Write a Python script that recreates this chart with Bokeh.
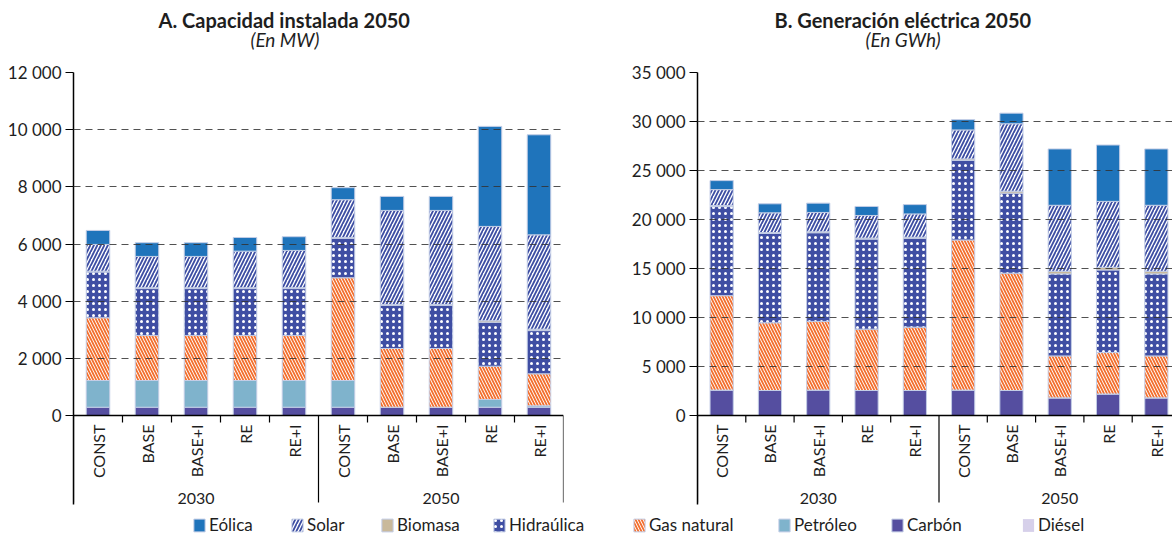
import math
from bokeh.plotting import figure
from bokeh.models import (ColumnDataSource, Range1d, FixedTicker, CustomJSTickFormatter,
                          Title, Legend, LegendItem)
from bokeh.layouts import column, row
from bokeh.transform import stack
from bokeh.core.properties import value
from bokeh.embed import file_html
from bokeh.resources import INLINE

# ---------------- data ----------------
groups = ["2030", "2050"]
scenarios = ["CONST", "BASE", "BASE+I", "RE", "RE+I"]

# stacking order, bottom to top
series = ["Carbón", "Diésel", "Petróleo", "Gas natural", "Hidraúlica", "Biomasa", "Solar", "Eólica"]
legend_order = ["Eólica", "Solar", "Biomasa", "Hidraúlica", "Gas natural", "Petróleo", "Carbón", "Diésel"]

# A. Capacidad instalada (MW): 2030 CONST..RE+I, 2050 CONST..RE+I
cap_carbon = [290, 290, 290, 290, 290, 290, 290, 290, 290, 290]
cap_diesel = [0, 0, 0, 0, 0, 0, 0, 0, 0, 0]
cap_petroleo = [935, 935, 935, 935, 935, 935, 0, 0, 270, 50]
cap_gas = [2195, 1575, 1575, 1575, 1575, 3595, 2055, 2055, 1165, 1120]
cap_hidro = [1600, 1640, 1640, 1640, 1640, 1380, 1510, 1510, 1540, 1510]
cap_biomasa = [30, 30, 30, 30, 30, 30, 30, 30, 50, 50]
cap_solar = [935, 1095, 1095, 1280, 1305, 1320, 3290, 3290, 3300, 3300]
cap_eolica = [490, 480, 480, 478, 480, 420, 490, 490, 3500, 3500]

# B. Generación eléctrica (GWh)
gen_carbon = [2600, 2550, 2600, 2550, 2550, 2600, 2550, 1800, 2200, 1800]
gen_diesel = [0, 0, 0, 0, 0, 0, 0, 0, 0, 0]
gen_petroleo = [0, 0, 0, 0, 0, 0, 0, 0, 0, 0]
gen_gas = [9630, 6910, 7000, 6260, 6460, 15310, 11970, 4280, 4220, 4280]
gen_hidro = [9090, 9110, 9050, 9190, 9080, 8120, 8170, 8370, 8430, 8370]
gen_biomasa = [100, 100, 100, 100, 100, 150, 200, 270, 270, 270]
gen_solar = [1630, 2010, 1970, 2310, 2380, 2960, 6880, 6730, 6730, 6730]
gen_eolica = [920, 920, 950, 920, 950, 1050, 1080, 5750, 5750, 5750]

cap_ticks = [0, 2000, 4000, 6000, 8000, 10000, 12000]
gen_ticks = [0, 5000, 10000, 15000, 20000, 25000, 30000, 35000]

# ---------------- styles / layout ----------------
FONT = "Lato"
TXT = "#1e1e1e"
OUTLINE = "#c3cde6"
styles = {
    "Eólica": dict(fill_color="#1f74bb"),
    "Solar": dict(fill_color="white", hatch_pattern="/", hatch_color="#3d4ea3",
                  hatch_weight=1.8, hatch_scale=7),
    "Biomasa": dict(fill_color="#c9b99b"),
    "Hidraúlica": dict(fill_color="#3f4ea3", hatch_pattern="dot", hatch_color="white",
                       hatch_weight=3, hatch_scale=6),
    "Gas natural": dict(fill_color="white", hatch_pattern="\\", hatch_color="#f36f2e",
                        hatch_weight=1.8, hatch_scale=6),
    "Petróleo": dict(fill_color="#7fb3cc"),
    "Carbón": dict(fill_color="#554ea0"),
    "Diésel": dict(fill_color="#d6d0ea"),
}
legend_x = [192, 290, 380, 492, 632, 777, 890, 1021]  # pixel slots of the legend entries

TOP = 72               # frame top
FRAME_H = 432          # frame height
ZERO_FROM_BOTTOM = 89  # zero line sits this many px above frame bottom
SPACING_PX = 48.3      # px per category in chart B


def make_chart(cols, ticks, title, subtitle, width, border_left, border_right,
               x_span, title_off, sub_off):
    ymax = ticks[-1]
    upp = ymax / (FRAME_H - ZERO_FROM_BOTTOM)  # data units per pixel
    ystart = -ZERO_FROM_BOTTOM * upp
    n = len(groups) * len(scenarios)
    xs = [i + 0.5 for i in range(n)]
    data = dict(x=xs)
    data.update(cols)
    src = ColumnDataSource(data)

    p = figure(width=width, height=TOP + FRAME_H + 2,
               x_range=Range1d(0, x_span), y_range=Range1d(ystart, ymax),
               x_axis_type=None, output_backend="svg", toolbar_location=None,
               min_border_left=border_left, min_border_right=border_right,
               min_border_top=TOP, min_border_bottom=2, outline_line_color=None,
               background_fill_color="white", border_fill_color="white")

    for i, s in enumerate(series):
        bottom = stack(*series[:i]) if i > 0 else 0
        lc = None if s == "Diésel" else OUTLINE
        p.vbar(x="x", width=0.48, bottom=bottom, top=stack(*series[:i + 1]),
               source=src, line_color=lc, line_width=1, **styles[s])

    fmt = CustomJSTickFormatter(code="return tick.toFixed(0).replace(/\\B(?=(\\d{3})+(?!\\d))/g, ' ');")
    ax = p.yaxis[0]
    ax.ticker = FixedTicker(ticks=ticks)
    ax.formatter = fmt
    ax.axis_line_color = "black"
    ax.axis_line_width = 1.5
    ax.major_tick_line_color = "black"
    ax.major_tick_line_width = 1.2
    ax.major_tick_out = 8
    ax.major_tick_in = 0
    ax.minor_tick_line_color = None
    ax.major_label_text_font = FONT
    ax.major_label_text_font_size = "17px"
    ax.major_label_text_color = TXT
    ax.major_label_standoff = 4

    g = p.ygrid[0]
    g.ticker = FixedTicker(ticks=ticks[1:])
    g.grid_line_color = "#333333"
    g.grid_line_alpha = 0.85
    g.grid_line_dash = "7 5"
    g.grid_line_width = 1
    g.level = "overlay"

    # categorical x axis drawn by hand so the group separators run through the labels
    p.segment(x0=[0], y0=[0], x1=[n], y1=[0], line_color="black", line_width=1.5)
    inner = [i for i in range(1, n) if i % len(scenarios) != 0]
    tick_len = 7 * upp
    p.segment(x0=inner, y0=[0] * len(inner), x1=inner, y1=[-tick_len] * len(inner),
              line_color="black", line_width=1.2)
    seps = [k * len(scenarios) for k in range(len(groups) + 1)]
    p.segment(x0=seps, y0=[0] * len(seps), x1=seps, y1=[ystart + 2 * upp] * len(seps),
              line_color="black", line_width=1.2)
    labels = scenarios * len(groups)
    p.text(x=xs, y=[0] * n, text=labels, angle=math.pi / 2, text_align="right",
           text_baseline="middle", y_offset=9, text_font=value(FONT),
           text_font_size="16px", text_color=TXT)
    gx = [k * len(scenarios) + len(scenarios) / 2 for k in range(len(groups))]
    p.text(x=gx, y=[ystart] * len(gx), text=groups, text_align="center",
           text_baseline="bottom", y_offset=-1, text_font=value(FONT),
           text_font_size="16px", text_color=TXT)

    # spacer between frame and subtitle, then subtitle, then title
    p.add_layout(Title(text=" ", text_font=FONT, text_font_size="10px", standoff=10), "above")
    p.add_layout(Title(text=subtitle, align="left", offset=sub_off, text_font=FONT,
                       text_font_size="19px", text_font_style="italic",
                       text_color=TXT, standoff=-4), "above")
    p.add_layout(Title(text=title, align="left", offset=title_off, text_font=FONT,
                       text_font_size="20px", text_font_style="bold",
                       text_color=TXT, standoff=-9), "above")
    return p


cap_cols = {"Carbón": cap_carbon, "Diésel": cap_diesel, "Petróleo": cap_petroleo,
            "Gas natural": cap_gas, "Hidraúlica": cap_hidro, "Biomasa": cap_biomasa,
            "Solar": cap_solar, "Eólica": cap_eolica}
gen_cols = {"Carbón": gen_carbon, "Diésel": gen_diesel, "Petróleo": gen_petroleo,
            "Gas natural": gen_gas, "Hidraúlica": gen_hidro, "Biomasa": gen_biomasa,
            "Solar": gen_solar, "Eólica": gen_eolica}

pA = make_chart(cap_cols, cap_ticks, "A. Capacidad instalada 2050", "(En MW)",
                width=608, border_left=73, border_right=45, x_span=10,
                title_off=85, sub_off=177)
pB = make_chart(gen_cols, gen_ticks, "B. Generación eléctrica 2050", "(En GWh)",
                width=564, border_left=89, border_right=0, x_span=475 / SPACING_PX,
                title_off=77, sub_off=168)

# legend strip
pL = figure(width=1172, height=36, x_range=Range1d(0, 1), y_range=Range1d(0, 1),
            x_axis_type=None, y_axis_type=None, output_backend="svg",
            toolbar_location=None, min_border=0, outline_line_color=None)
pL.grid.visible = False
for s, lx in zip(legend_order, legend_x):
    lc = None if s == "Diésel" else OUTLINE
    dummy = ColumnDataSource(dict(x=[-1.0], top=[0.0]))  # off-range stand-in for the legend swatch
    r = pL.vbar(x="x", top="top", width=0.01, source=dummy, line_color=lc, **styles[s])
    leg = Legend(items=[LegendItem(label=s, renderers=[r])], orientation="horizontal",
                 location=(lx, 7), spacing=0, glyph_width=14, glyph_height=16,
                 label_standoff=3, padding=0, margin=0, border_line_color=None,
                 background_fill_alpha=0, label_text_font=FONT,
                 label_text_font_size="17px", label_text_color=TXT, label_height=16)
    pL.add_layout(leg, "center")

layout = column(row(pA, pB), pL)
open("out.html", "w").write(file_html(layout, INLINE))
